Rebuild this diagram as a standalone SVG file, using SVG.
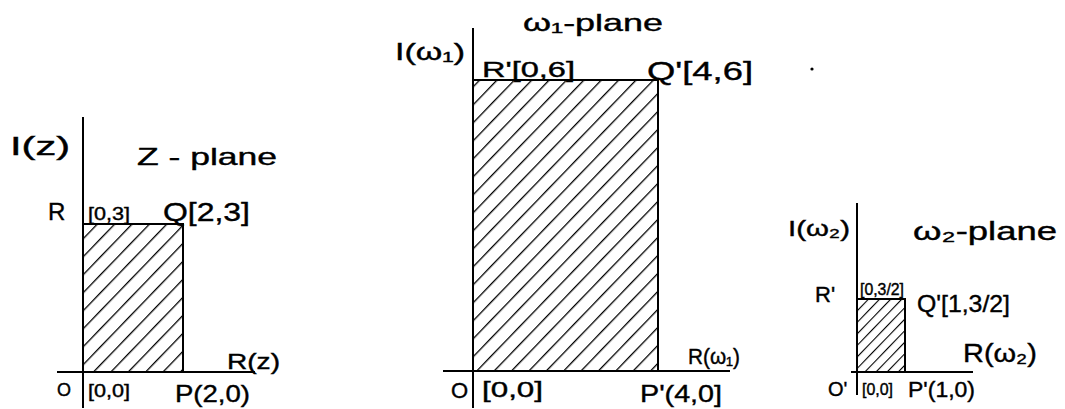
<svg xmlns="http://www.w3.org/2000/svg" width="1065" height="409" viewBox="0 0 1065 409">
<style>
.ax{stroke:#000;stroke-width:2;fill:none}
.bx{stroke:#000;stroke-width:2}
.t{font-family:"Liberation Sans","DejaVu Sans",sans-serif;fill:#000;stroke:#000;stroke-width:0.4}
</style>
<defs>
<pattern id="hatch" patternUnits="userSpaceOnUse" width="12.5" height="12.5" patternTransform="rotate(44)">
<line x1="0" y1="-1" x2="0" y2="14" stroke="#000" stroke-width="2.6"/>
</pattern>
<pattern id="hatchS" patternUnits="userSpaceOnUse" width="8" height="8" patternTransform="rotate(44)">
<line x1="0" y1="-1" x2="0" y2="9" stroke="#000" stroke-width="2.2"/>
</pattern>
</defs>
<rect width="1065" height="409" fill="#fff"/>

<g id="z-plane">
<rect x="83" y="224" width="100" height="148" fill="url(#hatch)" class="bx"/>
<line class="ax" x1="83" y1="117" x2="83" y2="408"/>
<line class="ax" x1="57" y1="372" x2="255" y2="372"/>
<text class="t" x="10" y="155" font-size="26" textLength="60" lengthAdjust="spacingAndGlyphs">I(z)</text>
<text class="t" x="137" y="165" font-size="24" textLength="140" lengthAdjust="spacingAndGlyphs">Z - plane</text>
<text class="t" x="48" y="220" font-size="24">R</text>
<text class="t" x="88" y="220" font-size="18" textLength="42" lengthAdjust="spacingAndGlyphs">[0,3]</text>
<text class="t" x="163" y="221" font-size="26" textLength="87" lengthAdjust="spacingAndGlyphs">Q[2,3]</text>
<text class="t" x="227" y="369" font-size="22" textLength="53" lengthAdjust="spacingAndGlyphs">R(z)</text>
<text class="t" x="57" y="396" font-size="18">O</text>
<text class="t" x="88" y="397" font-size="18" textLength="42" lengthAdjust="spacingAndGlyphs">[0,0]</text>
<text class="t" x="175" y="402" font-size="24" textLength="75" lengthAdjust="spacingAndGlyphs">P(2,0)</text>
</g>

<g id="w1-plane">
<rect x="473" y="80" width="185" height="291" fill="url(#hatch)" class="bx"/>
<line class="ax" x1="473" y1="28" x2="473" y2="408"/>
<line class="ax" x1="443" y1="371" x2="730" y2="371"/>
<text class="t" x="395" y="60" font-size="24" textLength="70" lengthAdjust="spacingAndGlyphs">I(ω₁)</text>
<text class="t" x="523" y="31" font-size="24" textLength="140" lengthAdjust="spacingAndGlyphs">ω₁-plane</text>
<text class="t" x="482" y="77" font-size="22" textLength="93" lengthAdjust="spacingAndGlyphs">R'[0,6]</text>
<text class="t" x="647" y="80" font-size="26" textLength="106" lengthAdjust="spacingAndGlyphs">Q'[4,6]</text>
<text class="t" x="688" y="364" font-size="22" textLength="52" lengthAdjust="spacingAndGlyphs">R(ω₁)</text>
<text class="t" x="451" y="398" font-size="22">O</text>
<text class="t" x="482" y="397" font-size="22" textLength="61" lengthAdjust="spacingAndGlyphs">[0,0]</text>
<text class="t" x="640" y="402" font-size="24" textLength="82" lengthAdjust="spacingAndGlyphs">P'(4,0]</text>
<circle cx="812" cy="69" r="1.6" fill="#000"/>
</g>

<g id="w2-plane">
<rect x="857" y="299" width="48" height="73" fill="url(#hatchS)" class="bx"/>
<line class="ax" x1="857" y1="203" x2="857" y2="395"/>
<line class="ax" x1="851" y1="372" x2="973" y2="372"/>
<text class="t" x="788" y="236" font-size="22" textLength="62" lengthAdjust="spacingAndGlyphs">I(ω₂)</text>
<text class="t" x="913" y="240" font-size="26" textLength="144" lengthAdjust="spacingAndGlyphs">ω₂-plane</text>
<text class="t" x="815" y="302" font-size="22">R'</text>
<text class="t" x="860" y="295" font-size="16" textLength="44" lengthAdjust="spacingAndGlyphs">[0,3/2]</text>
<text class="t" x="917" y="312" font-size="24" textLength="93" lengthAdjust="spacingAndGlyphs">Q'[1,3/2]</text>
<text class="t" x="963" y="362" font-size="26" textLength="74" lengthAdjust="spacingAndGlyphs">R(ω₂)</text>
<text class="t" x="828" y="396" font-size="20">O'</text>
<text class="t" x="862" y="395" font-size="16" textLength="31" lengthAdjust="spacingAndGlyphs">[0,0]</text>
<text class="t" x="908" y="397" font-size="22" textLength="67" lengthAdjust="spacingAndGlyphs">P'(1,0)</text>
</g>
</svg>
